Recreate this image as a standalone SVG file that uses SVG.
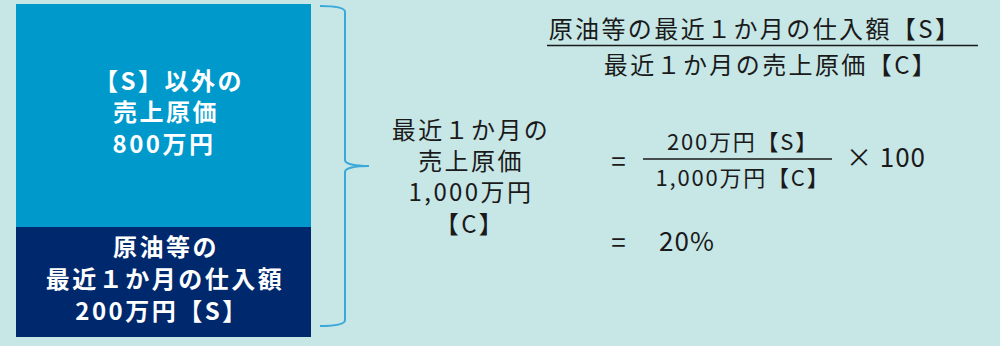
<svg xmlns="http://www.w3.org/2000/svg" width="1000" height="346" viewBox="0 0 1000 346">
<style>
.w{fill:#ffffff;font-family:"Noto Sans CJK JP","Noto Sans",sans-serif;font-weight:bold;font-size:24px;letter-spacing:2.5px;text-anchor:middle}
.t{fill:#1a1a1a;font-family:"Noto Sans CJK JP","Noto Sans",sans-serif;font-size:24px;letter-spacing:2.4px;text-anchor:middle}
.s{font-size:22px;letter-spacing:1.8px}
.b{font-size:26px;letter-spacing:1px}
.rule{stroke:#1a1a1a;stroke-width:1.5;fill:none}
</style>
<rect x="0" y="0" width="1000" height="346" fill="#c7e6e6"/>
<g id="other-cost">
<rect x="16" y="4" width="295" height="223" fill="#0099cc"/>
<text class="w"><tspan x="169" y="90">【S】以外の</tspan><tspan x="166" y="121">売上原価</tspan><tspan x="164" y="153">800万円</tspan></text>
</g>
<g id="purchase">
<rect x="16" y="227" width="295" height="110" fill="#00286c"/>
<text class="w"><tspan x="166" y="256">原油等の</tspan><tspan x="165" y="288">最近１か月の仕入額</tspan><tspan x="162" y="320">200万円【S】</tspan></text>
</g>
<g id="connectors">
<path d="M320,6 C335,6 345,8 345,12 L345,160 C345,164 355,166 369,166 C355,166 345,168 345,172 L345,320 C345,324 335,326 320,326" fill="none" stroke="#3aa9d9" stroke-width="2"/>
</g>
<g id="total-cost">
<text class="t"><tspan x="471" y="139">最近１か月の</tspan><tspan x="471" y="170">売上原価</tspan><tspan x="471" y="201">1,000万円</tspan><tspan x="470" y="233">【C】</tspan></text>
</g>
<g id="formula">
<text class="t" x="755" y="38">原油等の最近１か月の仕入額【S】</text>
<line class="rule" x1="547" y1="45.5" x2="978" y2="45.5"/>
<text class="t" x="771" y="74">最近１か月の売上原価【C】</text>
<text class="t b" x="619" y="171">=</text>
<text class="t s" x="743" y="150">200万円【S】</text>
<line class="rule" x1="643" y1="159" x2="832" y2="159"/>
<text class="t s" x="743" y="186">1,000万円【C】</text>
<text class="t b" x="886" y="167">× 100</text>
<text class="t b" x="619" y="252">=</text>
<text class="t b" x="687" y="251">20%</text>
</g>
</svg>
